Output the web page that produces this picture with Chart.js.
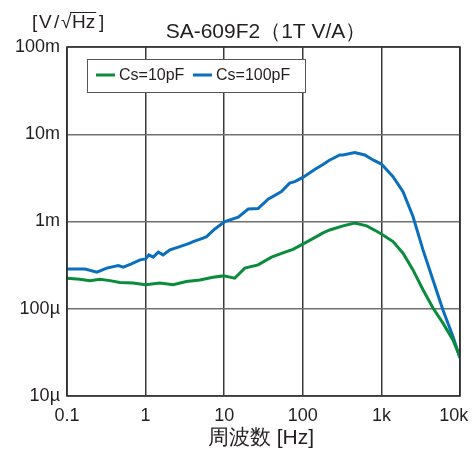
<!DOCTYPE html>
<html>
<head>
<meta charset="utf-8">
<script src="https://cdn.jsdelivr.net/npm/chart.js@4"></script>
<style>
  body { margin: 0; background: #fff; }
</style>
</head>
<body>
<canvas id="noise-chart" width="473" height="450"></canvas>
<script>
// values
const chartTitle = "SA-609F2（1T V/A）";
const xAxisTitle = "周波数 [Hz]";
const seriesNames = ["Cs=10pF", "Cs=100pF"];

const xTickValues = [0.1, 1, 10, 100, 1000, 10000];
const xTickLabels = ["0.1", "1", "10", "100", "1k", "10k"];
const yTickValues = [1e-5, 1e-4, 1e-3, 1e-2, 1e-1];
const yTickLabels = ["10µ", "100µ", "1m", "10m", "100m"];

const greenFreq = [0.1, 0.146, 0.196, 0.263, 0.35, 0.472, 0.69, 1.0, 1.52, 2.24, 3.3, 4.9, 7.2, 9.8, 13.6, 18.3, 27, 40, 57, 75, 100, 149, 181, 220, 325, 458, 650, 880, 1000, 1406, 1884, 2523, 3382, 4533, 6070, 8130, 10000];
const greenVal = [2.24e-4, 2.18e-4, 2.1e-4, 2.18e-4, 2.1e-4, 2.0e-4, 1.97e-4, 1.88e-4, 1.97e-4, 1.88e-4, 2.05e-4, 2.14e-4, 2.3e-4, 2.38e-4, 2.24e-4, 2.92e-4, 3.18e-4, 3.9e-4, 4.4e-4, 4.8e-4, 5.5e-4, 6.7e-4, 7.4e-4, 8.0e-4, 8.9e-4, 9.6e-4, 8.9e-4, 7.67e-4, 7.2e-4, 5.89e-4, 4.33e-4, 2.79e-4, 1.65e-4, 1.02e-4, 6.84e-5, 4.4e-5, 2.8e-5];

const blueFreq = [0.1, 0.17, 0.24, 0.32, 0.45, 0.52, 0.66, 0.85, 1.0, 1.1, 1.25, 1.45, 1.67, 2.04, 2.73, 3.66, 4.03, 5.4, 5.97, 7.6, 10.2, 15.1, 20.2, 27, 36.2, 53.5, 68, 79, 100, 145, 181, 215, 295, 325, 458, 614, 783, 1000, 1406, 1884, 2523, 3382, 4533, 6070, 8130, 10000];
const blueVal = [2.86e-4, 2.85e-4, 2.62e-4, 2.92e-4, 3.12e-4, 2.99e-4, 3.27e-4, 3.63e-4, 3.73e-4, 4.14e-4, 3.9e-4, 4.45e-4, 4.14e-4, 4.73e-4, 5.16e-4, 5.64e-4, 5.89e-4, 6.44e-4, 6.7e-4, 8.2e-4, 9.97e-4, 1.12e-3, 1.39e-3, 1.41e-3, 1.8e-3, 2.2e-3, 2.75e-3, 2.86e-3, 3.2e-3, 4.0e-3, 4.5e-3, 5.0e-3, 5.79e-3, 5.79e-3, 6.16e-3, 5.79e-3, 5.08e-3, 4.55e-3, 3.27e-3, 2.2e-3, 1.14e-3, 4.73e-4, 2.14e-4, 9.7e-5, 4.8e-5, 2.72e-5];

const GREEN = "#0b8c3c";
const BLUE = "#0b6fbd";
const TEXT = "#231f20";
const FONT = '"Liberation Sans", Arial, sans-serif';

function toPoints(xs, ys) {
  return xs.map((x, i) => ({ x: x, y: ys[i] }));
}

const extras = {
  id: 'extras',
  afterDraw(chart) {
    const ctx = chart.ctx;
    const a = chart.chartArea;
    ctx.save();

    // frame
    ctx.strokeStyle = "#2b2b2b";
    ctx.lineWidth = 1.5;
    ctx.strokeRect(a.left, a.top, a.right - a.left, a.bottom - a.top);

    ctx.fillStyle = TEXT;
    ctx.textBaseline = "alphabetic";

    // title
    ctx.font = "21px " + FONT;
    ctx.textAlign = "center";
    ctx.fillText(chartTitle, 266, 38);

    // x axis title
    ctx.font = "21px " + FONT;
    ctx.fillText(xAxisTitle, 261, 444);

    // unit [V/√Hz] with overline on Hz
    ctx.font = "19px " + FONT;
    ctx.textAlign = "left";
    const uy = 28;
    ctx.fillText("[", 32, uy);
    ctx.fillText("V", 39, uy);
    ctx.fillText("/", 54, uy);
    ctx.fillText("√", 61, uy);
    ctx.fillText("Hz", 72, uy);
    ctx.fillText("]", 99, uy);
    const w2 = ctx.measureText("Hz").width;
    ctx.strokeStyle = TEXT;
    ctx.lineWidth = 1;
    ctx.beginPath();
    ctx.moveTo(70, uy - 15.5);
    ctx.lineTo(72 + w2 + 1, uy - 15.5);
    ctx.stroke();

    // legend box
    ctx.fillStyle = "#fff";
    ctx.fillRect(87, 59, 218, 33);
    ctx.strokeStyle = "#555";
    ctx.lineWidth = 1;
    ctx.strokeRect(87.5, 59.5, 218, 33);
    const items = [[GREEN, seriesNames[0], 96], [BLUE, seriesNames[1], 193]];
    ctx.font = "16px " + FONT;
    ctx.textBaseline = "middle";
    items.forEach(it => {
      ctx.strokeStyle = it[0];
      ctx.lineWidth = 3;
      ctx.beginPath();
      ctx.moveTo(it[2], 75);
      ctx.lineTo(it[2] + 19, 75);
      ctx.stroke();
      ctx.fillStyle = TEXT;
      ctx.fillText(it[1], it[2] + 23, 76);
    });
    ctx.restore();
  }
};

new Chart(document.getElementById("noise-chart"), {
  type: 'line',
  data: {
    datasets: [
      {
        label: seriesNames[0],
        data: toPoints(greenFreq, greenVal),
        borderColor: GREEN,
        borderWidth: 3,
        pointRadius: 0,
        tension: 0
      },
      {
        label: seriesNames[1],
        data: toPoints(blueFreq, blueVal),
        borderColor: BLUE,
        borderWidth: 3,
        pointRadius: 0,
        tension: 0
      }
    ]
  },
  options: {
    responsive: false,
    animation: false,
    layout: { padding: { top: 47, right: 13, left: 0, bottom: 0 } },
    plugins: {
      legend: { display: false },
      title: { display: false },
      tooltip: { enabled: false }
    },
    scales: {
      x: {
        type: 'logarithmic',
        min: 0.1,
        max: 10000,
        afterBuildTicks: s => { s.ticks = xTickValues.map(v => ({ value: v })); },
        afterFit: s => { s.height = 54; s.paddingLeft = 0; s.paddingRight = 0; },
        ticks: {
          autoSkip: false,
          maxRotation: 0,
          padding: 9,
          color: TEXT,
          font: { family: FONT, size: 18 },
          callback: (v) => {
            const lbl = xTickLabels[xTickValues.indexOf(v)];
            // keep the last label inside the canvas, as in the reference
            return v === 10000 ? lbl + "\u2002\u2009" : lbl;
          }
        },
        grid: { color: "#3a3a3a", lineWidth: 1.5, drawTicks: false },
        border: { display: false }
      },
      y: {
        type: 'logarithmic',
        min: 1e-5,
        max: 0.1,
        afterBuildTicks: s => { s.ticks = yTickValues.map(v => ({ value: v })); },
        afterFit: s => { s.width = 67; s.paddingTop = 0; s.paddingBottom = 0; },
        ticks: {
          autoSkip: false,
          padding: 7,
          color: TEXT,
          font: { family: FONT, size: 18 },
          callback: (v) => yTickLabels[yTickValues.indexOf(v)]
        },
        grid: { color: "#707070", lineWidth: 1.5, drawTicks: false },
        border: { display: false }
      }
    }
  },
  plugins: [extras]
});
</script>
</body>
</html>
